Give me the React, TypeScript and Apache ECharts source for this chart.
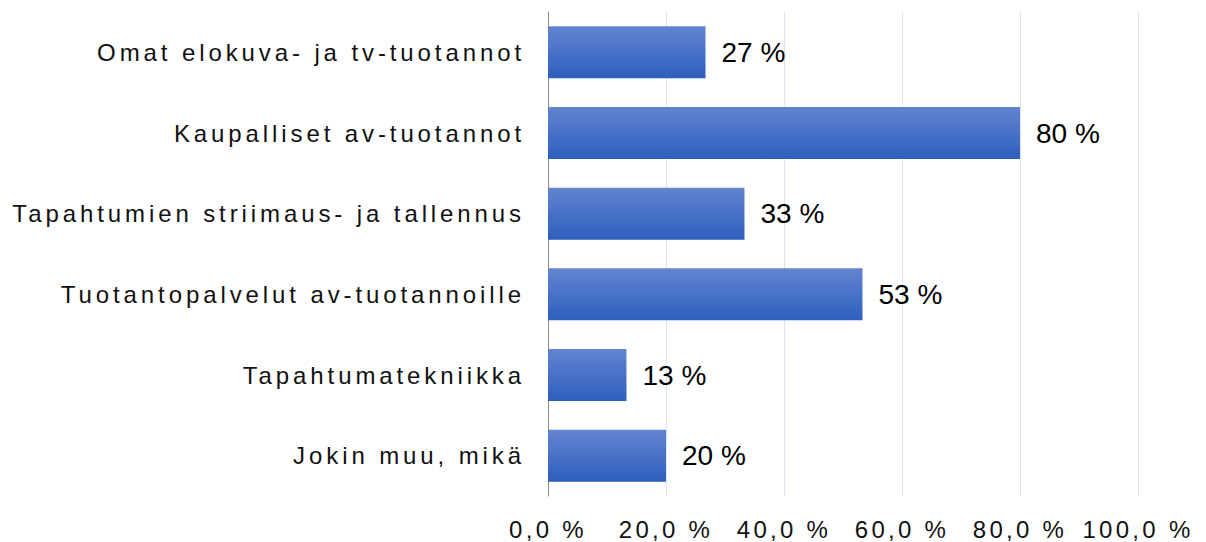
import React, { useEffect, useRef } from "react";
import * as echarts from "echarts";

const categories = [
  "Omat elokuva- ja tv-tuotannot",
  "Kaupalliset av-tuotannot",
  "Tapahtumien striimaus- ja tallennus",
  "Tuotantopalvelut av-tuotannoille",
  "Tapahtumatekniikka",
  "Jokin muu, mikä",
];
const values = [26.7, 80, 33.3, 53.3, 13.3, 20];
const xTicks = [0, 20, 40, 60, 80, 100];

const fmtTick = (v: number) => v.toFixed(1).replace(".", ",") + " %";

export default function App() {
  const ref = useRef<HTMLDivElement>(null);
  useEffect(() => {
    if (!ref.current) return;
    const chart = echarts.init(ref.current, null, { renderer: "svg" });
    chart.setOption({
      animation: false,
      textStyle: { fontFamily: "Liberation Sans, Arial, sans-serif" },
      grid: { left: 548, right: 68, top: 12, bottom: 46, containLabel: false },
      xAxis: {
        type: "value",
        min: xTicks[0],
        max: xTicks[xTicks.length - 1],
        interval: 20,
        axisLine: { show: false },
        axisTick: { show: false },
        splitLine: { show: true, lineStyle: { color: "#dbe5f1", width: 1 } },
        axisLabel: {
          formatter: (v: number) => fmtTick(v),
          fontSize: 24,
          color: "#111",
          margin: 21,
        },
      },
      yAxis: {
        type: "category",
        data: categories,
        inverse: true,
        axisLine: { show: true, lineStyle: { color: "#8c8c8c", width: 1 } },
        axisTick: { show: false },
        splitLine: { show: false },
        axisLabel: { fontSize: 24, color: "#111", margin: 23 },
      },
      series: [
        {
          type: "bar",
          data: values,
          barWidth: 52,
          itemStyle: {
            color: new echarts.graphic.LinearGradient(0, 0, 0, 1, [
              { offset: 0, color: "#6384cf" },
              { offset: 1, color: "#2d5fbe" },
            ]),
          },
          label: {
            show: true,
            position: "right",
            distance: 16,
            fontSize: 28,
            color: "#000",
            formatter: (p: any) => Math.round(p.value) + " %",
          },
        },
      ],
    });
    const applySpacing = () => {
      const texts = ref.current?.querySelectorAll("text");
      texts?.forEach((t) => {
        const s = t.textContent || "";
        if (categories.includes(s)) {
          t.setAttribute("letter-spacing", "3.9");
        } else if (xTicks.map(fmtTick).includes(s)) {
          t.setAttribute("letter-spacing", "3.3");
        }
      });
    };
    applySpacing();
    return () => chart.dispose();
  }, []);
  return (
    <div
      ref={ref}
      style={{ position: "fixed", left: 0, top: 0, width: 1206, height: 542, background: "#fff" }}
    />
  );
}
